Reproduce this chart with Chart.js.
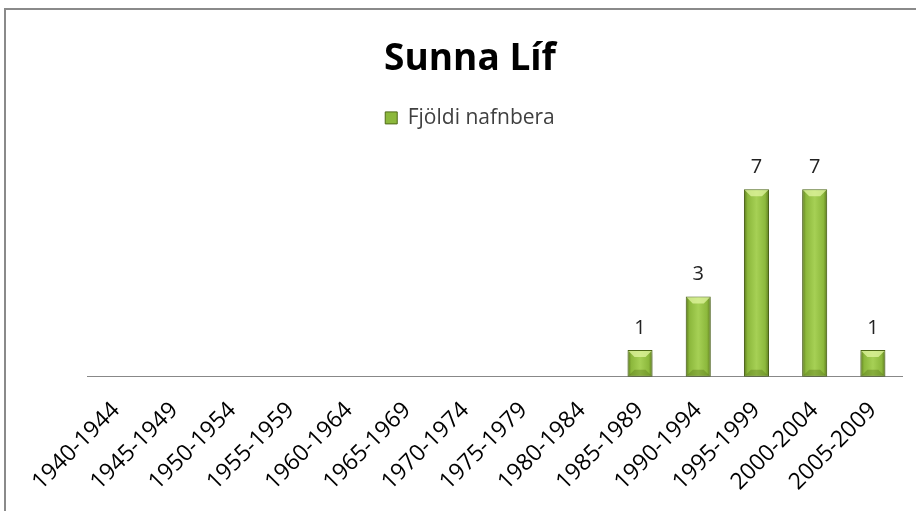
<!DOCTYPE html>
<html>
<head>
<meta charset="utf-8">
<script src="https://cdn.jsdelivr.net/npm/chart.js@4.4.1/dist/chart.umd.min.js"></script>
<style>
  html, body { margin: 0; padding: 0; background: #fff; overflow: hidden; }
  #frame {
    position: absolute; left: 4px; top: 8px; width: 1000px; height: 600px;
    border-left: 2px solid #8a8a8a; border-top: 2px solid #8a8a8a;
  }
  #wrap { position: absolute; left: 0; top: 0; width: 916px; height: 511px; }
</style>
</head>
<body>
<div id="frame"></div>
<div id="wrap"><canvas id="chart"></canvas></div>
<script>
const labels = [
  "1940-1944", "1945-1949", "1950-1954", "1955-1959", "1960-1964",
  "1965-1969", "1970-1974", "1975-1979", "1980-1984", "1985-1989",
  "1990-1994", "1995-1999", "2000-2004", "2005-2009",
];
const counts = [0, 0, 0, 0, 0, 0, 0, 0, 0, 1, 3, 7, 7, 1];
const seriesName = "Fjöldi nafnbera";
const chartTitle = "Sunna Líf";

const barPct = 0.43;

function barGradient(context) {
  const chart = context.chart;
  const xs = chart.scales.x;
  if (!xs || context.dataIndex === undefined) return "#8fbb41";
  const cx = xs.getPixelForValue(context.dataIndex);
  const w = (xs.width / labels.length) * barPct;
  if (!isFinite(cx) || !isFinite(w) || w <= 0) return "#8fbb41";
  const g = chart.ctx.createLinearGradient(cx - w / 2, 0, cx + w / 2, 0);
  g.addColorStop(0, "#5d7b1d");
  g.addColorStop(0.15, "#8cb83c");
  g.addColorStop(0.5, "#a6d055");
  g.addColorStop(0.85, "#8cb83c");
  g.addColorStop(1, "#5d7b1d");
  return g;
}

// extra room under the legend
const legendGap = {
  id: "legendGap",
  beforeInit(chart) {
    const fit = chart.legend.fit;
    chart.legend.fit = function () {
      fit.bind(chart.legend)();
      this.height += 24;
    };
  },
};

const barShadow = {
  id: "barShadow",
  beforeDatasetsDraw(chart) {
    const ctx = chart.ctx;
    ctx.save();
    ctx.shadowColor = "rgba(0,0,0,0.28)";
    ctx.shadowBlur = 5;
    ctx.shadowOffsetY = 3;
  },
  afterDatasetsDraw(chart) {
    chart.ctx.restore();
  },
};

// light bevel on top of each bar, darker one at the foot
const barBevel = {
  id: "barBevel",
  afterDatasetsDraw(chart) {
    const ctx = chart.ctx;
    const meta = chart.getDatasetMeta(0);
    ctx.save();
    meta.data.forEach((bar, i) => {
      if (!counts[i]) return;
      const l = bar.x - bar.width / 2 + 1;
      const r = bar.x + bar.width / 2 - 1;
      const t = bar.y + 1;
      const b = bar.base - 1;
      const d = 6;
      ctx.fillStyle = "rgba(225,245,160,0.75)";
      ctx.beginPath();
      ctx.moveTo(l, t);
      ctx.lineTo(r, t);
      ctx.lineTo(r - d, t + d);
      ctx.lineTo(l + d, t + d);
      ctx.closePath();
      ctx.fill();
      ctx.fillStyle = "rgba(80,110,20,0.35)";
      ctx.beginPath();
      ctx.moveTo(l, b);
      ctx.lineTo(r, b);
      ctx.lineTo(r - d, b - d);
      ctx.lineTo(l + d, b - d);
      ctx.closePath();
      ctx.fill();
    });
    ctx.restore();
  },
};

const valueLabels = {
  id: "valueLabels",
  afterDatasetsDraw(chart) {
    const ctx = chart.ctx;
    const meta = chart.getDatasetMeta(0);
    ctx.save();
    ctx.font = "20px 'Open Sans'";
    ctx.fillStyle = "#222";
    ctx.textAlign = "center";
    ctx.textBaseline = "alphabetic";
    meta.data.forEach((bar, i) => {
      if (!counts[i]) return;
      ctx.fillText(String(counts[i]), bar.x, bar.y - 16);
    });
    ctx.restore();
  },
};

new Chart(document.getElementById("chart"), {
  type: "bar",
  data: {
    labels: labels,
    datasets: [
      {
        label: seriesName,
        data: counts,
        backgroundColor: barGradient,
        borderColor: "#4f6a18",
        borderWidth: 1,
        borderSkipped: false,
        barPercentage: 1,
        categoryPercentage: barPct,
      },
    ],
  },
  options: {
    responsive: true,
    maintainAspectRatio: false,
    animation: false,
    layout: { padding: { left: 38, right: 14, top: 27, bottom: 3 } },
    plugins: {
      title: {
        display: true,
        text: chartTitle,
        color: "#000",
        font: { family: "'Open Sans'", size: 37, weight: "bold" },
        padding: { top: 10, bottom: 16 },
      },
      legend: {
        display: true,
        labels: {
          color: "#404040",
          font: { family: "'Open Sans'", size: 21 },
          boxWidth: 12,
          boxHeight: 12,
          padding: 10,
          generateLabels(chart) {
            return [{
              text: seriesName,
              fillStyle: "#8cb83c",
              strokeStyle: "#4f6a18",
              lineWidth: 1,
              fontColor: "#404040",
              datasetIndex: 0,
            }];
          },
        },
      },
      tooltip: { enabled: false },
    },
    scales: {
      x: {
        grid: { display: false },
        border: { display: true, color: "#888", width: 1 },
        ticks: {
          color: "#000",
          font: { family: "'Open Sans'", size: 23 },
          maxRotation: 45,
          minRotation: 45,
          padding: 12,
        },
      },
      y: {
        display: true,
        min: 0,
        max: 8,
        grid: { display: false },
        border: { display: false },
        ticks: { display: false },
        afterFit(scale) {
          scale.width = 49;
        },
      },
    },
  },
  plugins: [legendGap, barShadow, barBevel, valueLabels],
});
</script>
</body>
</html>
